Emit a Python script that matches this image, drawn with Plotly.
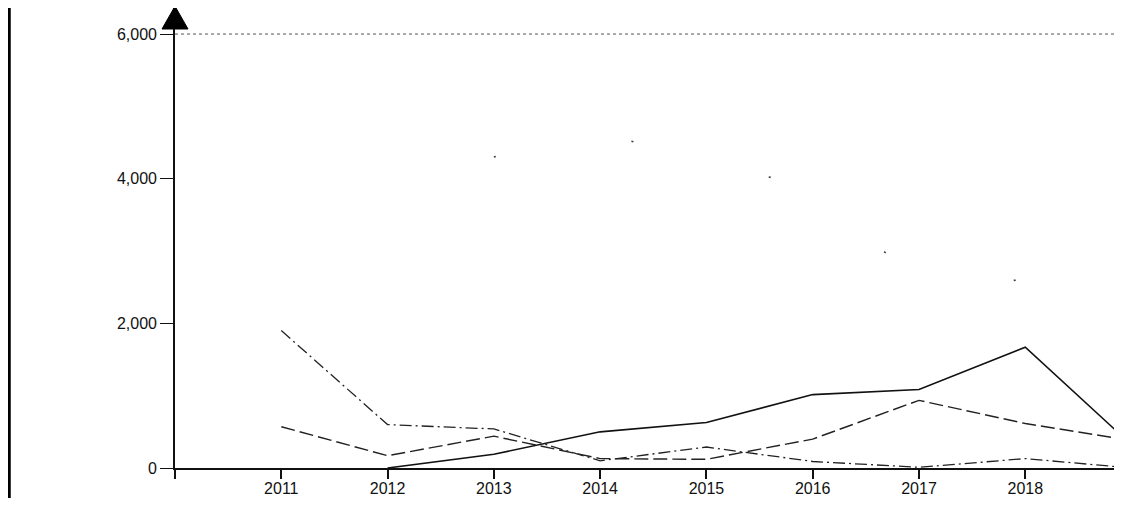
# Scanned-style line chart, 2011-2019
import plotly.graph_objects as go

years = [2011, 2012, 2013, 2014, 2015, 2016, 2017, 2018, 2019]

# solid line
series_solid = [None, 0, 190, 500, 630, 1015, 1085, 1670, 320]
# dashed line
series_dash = [570, 170, 440, 130, 120, 400, 935, 615, 380]
# dash-dot line
series_dashdot = [1900, 600, 540, 100, 290, 90, 10, 130, 0]
# faded line (only specks survive in the scan)
series_faint = [None, None, 4300, 4650, 4200, 3900, 2550, 2600, 2500]

y_ticks = [0, 2000, 4000, 6000]
x_ticks = [2010, 2011, 2012, 2013, 2014, 2015, 2016, 2017, 2018]
x_labels = ["", "2011", "2012", "2013", "2014", "2015", "2016", "2017", "2018"]

X_RANGE = [2010, 2018.91]
Y_RANGE = [0, 6360]
FONT = dict(family="Liberation Sans, Arial, sans-serif", size=16, color="#111")

fig = go.Figure()

fig.add_trace(go.Scatter(
    x=years, y=series_faint, mode="lines",
    line=dict(color="rgba(40,40,40,0.9)", width=1.6, dash="2px,140px"),
    hoverinfo="skip", connectgaps=False))

fig.add_trace(go.Scatter(
    x=years, y=series_dashdot, mode="lines",
    line=dict(color="#222", width=1.3, dash="12px,4px,2px,4px"),
    hoverinfo="skip"))

fig.add_trace(go.Scatter(
    x=years, y=series_dash, mode="lines",
    line=dict(color="#222", width=1.4, dash="14px,5px"),
    hoverinfo="skip"))

fig.add_trace(go.Scatter(
    x=years, y=series_solid, mode="lines",
    line=dict(color="#111", width=1.6),
    hoverinfo="skip"))

# the page body has an 8px margin; plot area is 947 x 460 px
left, plot_w, plot_h = 167, 947, 460
hw = 13 / plot_w          # half width of the arrow head
base = 1 - 21 / plot_h    # arrow head base

fig.update_layout(
    width=1114, height=490,
    margin=dict(l=left, r=0, t=0, b=30),
    paper_bgcolor="white", plot_bgcolor="white",
    showlegend=False,
    font=FONT,
    xaxis=dict(
        range=X_RANGE, tickvals=x_ticks, ticktext=x_labels,
        ticks="outside", ticklen=9, tickwidth=1.5, tickcolor="#111",
        ticklabelstandoff=-4,
        showgrid=False, zeroline=False,
        showline=True, linecolor="#111", linewidth=2.2,
        tickfont=FONT),
    yaxis=dict(
        range=Y_RANGE, tickvals=y_ticks, tickformat=",d",
        ticks="outside", ticklen=13, tickwidth=1.3, tickcolor="#111",
        showgrid=False, zeroline=False,
        showline=True, linecolor="#111", linewidth=1.6,
        tickfont=FONT),
    shapes=[
        # dotted line at 6,000
        dict(type="line", xref="paper", yref="y", x0=0, x1=1, y0=6000, y1=6000,
             line=dict(color="#555", width=1, dash="dot")),
        # arrow head on the y axis
        dict(type="path", xref="paper", yref="paper",
             path=f"M {-hw} {base} L {hw} {base} L 0 1.004 Z",
             fillcolor="black", line=dict(color="black", width=1)),
        # page border on the left
        dict(type="line", xref="paper", yref="paper",
             x0=(1 - left) / plot_w, x1=(1 - left) / plot_w, y0=-0.2, y1=1.1,
             line=dict(color="black", width=3.5)),
    ],
    annotations=[
        # 2019 label, cut by the right edge
        dict(text="2019", xref="paper", yref="paper",
             x=(2019 - X_RANGE[0]) / (X_RANGE[1] - X_RANGE[0]), y=0,
             xanchor="center", yanchor="top", yshift=-7, showarrow=False,
             font=FONT),
    ],
)

fig.write_html("out.html")
